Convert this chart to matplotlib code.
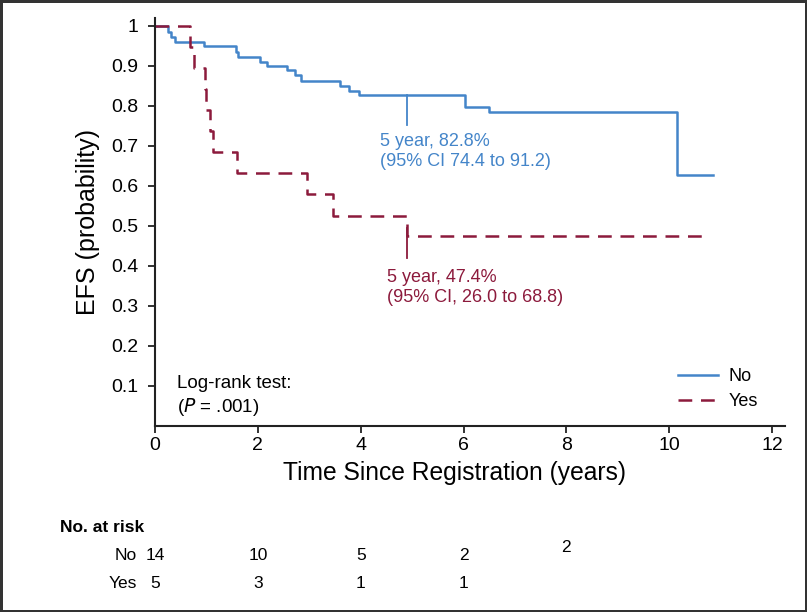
import numpy as np
import matplotlib.pyplot as plt
import matplotlib.transforms as mtransforms

plt.rcParams['font.family'] = ['Liberation Sans', 'DejaVu Sans']

# Kaplan-Meier steps
no_t = [0, 0.26, 0.32, 0.38, 0.96, 1.57, 1.62, 2.04, 2.17, 2.56, 2.72, 2.84, 3.59, 3.78, 3.97, 6.03, 6.5, 10.15]
no_s = [1.0, 0.986, 0.973, 0.961, 0.95, 0.936, 0.923, 0.91, 0.90, 0.889, 0.877, 0.863, 0.85, 0.837, 0.828, 0.798, 0.784, 0.628]
no_end = 10.85

yes_t = [0, 0.68, 0.76, 0.97, 1.0, 1.06, 1.12, 1.59, 2.95, 3.46, 4.9]
yes_s = [1.0, 0.947, 0.895, 0.842, 0.789, 0.737, 0.684, 0.632, 0.579, 0.526, 0.474]
yes_end = 10.7

mark_t = 4.9
no_mark = (0.828, 0.752)
yes_mark = (0.496, 0.421)

risk_times = [0, 2, 4, 6, 8]
risk_no = [14, 10, 5, 2, 2]
risk_yes = [5, 3, 1, 1]

blue = '#4485c9'
red = '#8c1a3c'

fig = plt.figure(figsize=(8.07, 6.12), dpi=100, linewidth=2.5, edgecolor='#333333')
ax = fig.add_axes([155/807, 1-426/612, 630/807, 408/612])

ax.step(no_t + [no_end], no_s + [no_s[-1]], where='post', color=blue, lw=1.8, label='No')
ax.step(yes_t + [yes_end], yes_s + [yes_s[-1]], where='post', color=red, lw=1.8,
        linestyle=(0, (5.5, 3.5)), label='Yes')
ax.plot([mark_t, mark_t], no_mark, color=blue, lw=1.3)
ax.plot([mark_t, mark_t], yes_mark, color=red, lw=1.3)

ax.text(4.37, 0.687, '5 year, 82.8%\n(95% CI 74.4 to 91.2)', color=blue, fontsize=13,
        va='center', ha='left', linespacing=1.25)
ax.text(4.51, 0.347, '5 year, 47.4%\n(95% CI, 26.0 to 68.8)', color=red, fontsize=13,
        va='center', ha='left', linespacing=1.25)
ax.text(0.42, 0.075, 'Log-rank test:\n($\\it{P}$ = .001)', fontsize=13.5, va='center', ha='left',
        linespacing=1.25)

ax.set_xlim(0, 12.25)
ax.set_ylim(0, 1.02)
ax.set_xticks(np.arange(0, 13, 2))
ax.set_yticks(np.arange(1, 11) / 10)
ax.set_yticklabels(['0.1', '0.2', '0.3', '0.4', '0.5', '0.6', '0.7', '0.8', '0.9', '1'])
for s in ['top', 'right']:
    ax.spines[s].set_visible(False)
for s in ['left', 'bottom']:
    ax.spines[s].set_linewidth(1.5)
    ax.spines[s].set_color('#222222')
ax.tick_params(direction='out', length=5, width=1.3, labelsize=14, color='#222222')
ax.tick_params(axis='y', pad=7)
ax.tick_params(axis='x', pad=3)
ax.set_xlabel('Time Since Registration (years)', fontsize=17.7, labelpad=6)
ax.xaxis.set_label_coords(0.476, -0.085)
ax.set_ylabel('EFS (probability)', fontsize=18, labelpad=8)

ax.legend(loc='upper left', frameon=False, fontsize=13, handlelength=2.2, handletextpad=0.6,
          borderpad=0, borderaxespad=0, bbox_to_anchor=((678-155)/630, 0.142), labelspacing=0.45)

# number at risk table
tr = mtransforms.blended_transform_factory(ax.transData, fig.transFigure)
fig.text(60/807, 1-527/612, 'No. at risk', fontsize=12.5, fontweight='bold', va='center')
fig.text(137/807, 1-555/612, 'No', fontsize=12.5, va='center', ha='right')
fig.text(137/807, 1-583/612, 'Yes', fontsize=12.5, va='center', ha='right')
for i, (t, n) in enumerate(zip(risk_times, risk_no)):
    y = 1-555/612 if i < 4 else 1-548/612
    ax.text(t, y, str(n), transform=tr, fontsize=12.5, va='center', ha='center')
for t, n in zip(risk_times, risk_yes):
    ax.text(t, 1-583/612, str(n), transform=tr, fontsize=12.5, va='center', ha='center')

fig.savefig('out.png', dpi=100)
